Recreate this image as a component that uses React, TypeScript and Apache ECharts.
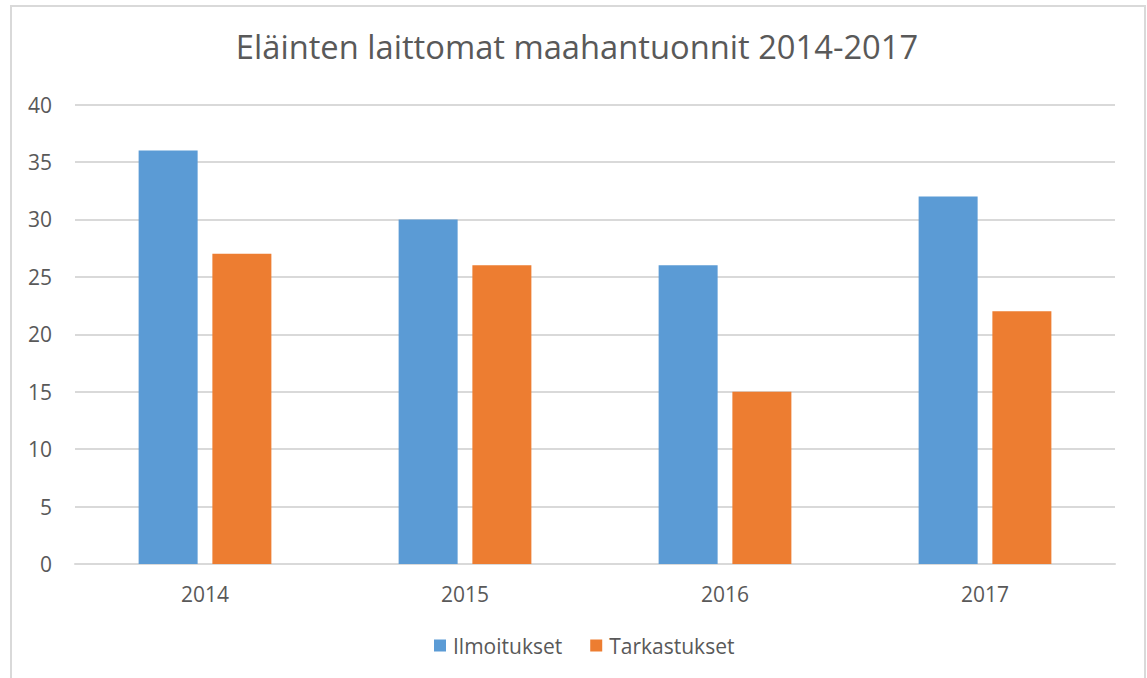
import React, { useEffect, useRef } from "react";
import * as echarts from "echarts";

const categories = ["2014", "2015", "2016", "2017"];
const ilmoitukset = [36, 30, 26, 32];
const tarkastukset = [27, 26, 15, 22];
const seriesNames = ["Ilmoitukset", "Tarkastukset"];
const titleText = "Eläinten laittomat maahantuonnit 2014-2017";

const FONT = "'Open Sans', sans-serif";
const TXT = "#595959";

export default function App() {
  const ref = useRef<HTMLDivElement>(null);
  useEffect(() => {
    const chart = echarts.init(ref.current!, undefined, { renderer: "svg" });
    chart.setOption({
      animation: false,
      backgroundColor: "#ffffff",
      textStyle: { fontFamily: FONT, color: TXT },
      title: {
        text: titleText,
        left: 572,
        textAlign: "center",
        top: 25,
        textStyle: { fontFamily: FONT, fontSize: 32.7, fontWeight: "normal", color: TXT },
      },
      graphic: [
        {
          type: "rect",
          shape: { x: 11, y: 6, width: 1134, height: 700 },
          style: { fill: "none", stroke: "#d9d9d9", lineWidth: 2 },
          silent: true,
        },
      ],
      legend: {
        bottom: 17,
        left: 429,
        itemWidth: 12,
        itemHeight: 12,
        itemGap: 28,
        icon: "rect",
        textStyle: { fontFamily: FONT, fontSize: 21, color: TXT, padding: [0, 0, 0, 2] },
        data: seriesNames,
      },
      grid: { left: 75, right: 32, top: 104.5, bottom: 114, containLabel: false },
      xAxis: {
        type: "category",
        data: categories,
        axisLine: { show: true, lineStyle: { color: "#d9d9d9", width: 2 } },
        axisTick: { show: false },
        axisLabel: { fontFamily: FONT, fontSize: 21, color: TXT, margin: 19 },
      },
      yAxis: {
        type: "value",
        min: 0,
        max: 40,
        interval: 5,
        axisLine: { show: false },
        axisTick: { show: false },
        splitLine: { lineStyle: { color: "#d9d9d9", width: 2 } },
        axisLabel: { fontFamily: FONT, fontSize: 21, color: TXT, margin: 23 },
      },
      series: [
        {
          name: seriesNames[0],
          type: "bar",
          data: ilmoitukset,
          barWidth: 59,
          barGap: "25%",
          itemStyle: { color: "#5B9BD5" },
        },
        {
          name: seriesNames[1],
          type: "bar",
          data: tarkastukset,
          barWidth: 59,
          barGap: "25%",
          itemStyle: { color: "#ED7D31" },
        },
      ],
    });
    return () => chart.dispose();
  }, []);
  return (
    <div
      ref={ref}
      style={{ position: "fixed", left: 0, top: 0, width: 1147, height: 678 }}
    />
  );
}
